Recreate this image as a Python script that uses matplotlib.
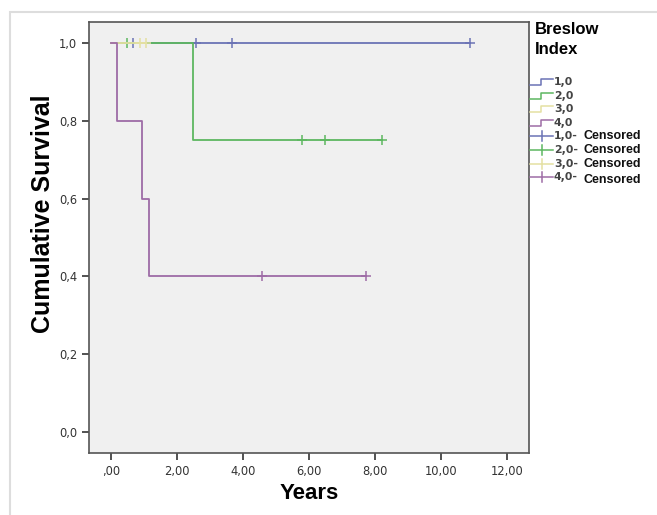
import matplotlib
matplotlib.use("Agg")
import matplotlib.pyplot as plt
from matplotlib.lines import Line2D
from matplotlib.patches import Rectangle

# Kaplan-Meier Stufen je Gruppe (Zeit in Jahren, kumulatives Überleben)
groups = ["1,0", "2,0", "3,0", "4,0"]
colors = ["#6B73B5", "#5DB760", "#E4E0A2", "#9E6CA6"]

step_times = [
    [0.0, 10.88],
    [0.0, 2.49, 8.21],
    [0.0, 1.05],
    [0.0, 0.17, 0.93, 1.16, 7.72],
]
step_surv = [
    [1.0, 1.0],
    [1.0, 0.75, 0.75],
    [1.0, 1.0],
    [1.0, 0.8, 0.6, 0.4, 0.4],
]

# zensierte Fälle
cens_times = [
    [0.67, 2.58, 3.67, 10.88],
    [0.47, 5.80, 6.49, 8.21],
    [0.88, 1.05],
    [4.58, 7.72],
]
cens_surv = [
    [1.0, 1.0, 1.0, 1.0],
    [1.0, 0.75, 0.75, 0.75],
    [1.0, 1.0],
    [0.4, 0.4],
]

x_ticks = [0, 2, 4, 6, 8, 10, 12]
x_labels = [",00", "2,00", "4,00", "6,00", "8,00", "10,00", "12,00"]
y_ticks = [0.0, 0.2, 0.4, 0.6, 0.8, 1.0]
y_labels = ["0,0", "0,2", "0,4", "0,6", "0,8", "1,0"]

W, H = 657, 515
fig = plt.figure(figsize=(W / 100, H / 100), dpi=100)


def fx(px):
    return px / W


def fy(py):
    return 1 - py / H


# heller Rahmen um die Grafik
fig.add_artist(Rectangle((fx(10), fy(600)), fx(700), fy(12) - fy(600),
                         transform=fig.transFigure, fill=False,
                         edgecolor="#DDDDDD", linewidth=1.5))

ax = fig.add_axes([fx(89), fy(453), fx(529) - fx(89), fy(22) - fy(453)])
ax.set_facecolor("#F0F0F0")

for i in range(len(groups)):
    ax.step(step_times[i], step_surv[i], where="post", color=colors[i], linewidth=1.3)
    ax.plot(cens_times[i], cens_surv[i], linestyle="none", marker="+",
            markersize=7, markeredgewidth=1.1, color=colors[i])

ax.set_xlim(-0.67, 12.67)
ax.set_ylim(-0.054, 1.054)
ax.set_xticks(x_ticks)
ax.set_xticklabels(x_labels)
ax.set_yticks(y_ticks)
ax.set_yticklabels(y_labels)
ax.tick_params(direction="out", length=5, width=1.2, color="#333333",
               labelsize=8.3, labelcolor="#333333")
for sp in ax.spines.values():
    sp.set_color("#555555")
    sp.set_linewidth(1.2)

ax.set_xlabel("Years", fontsize=16, fontweight="bold", family="Liberation Sans", labelpad=4)
ax.set_ylabel("Cumulative Survival", fontsize=18, fontweight="bold", family="Liberation Sans")
ax.yaxis.set_label_coords(-0.077, 0.555)

# Legende (SPSS-Stil)
fig.text(fx(535), fy(30), "Breslow", fontsize=12, fontweight="bold",
         family="Liberation Sans", va="center")
fig.text(fx(535), fy(50), "Index", fontsize=12, fontweight="bold",
         family="Liberation Sans", va="center")

row_h = 13.6
for i in range(len(groups)):
    y = 82 + row_h * i
    fig.add_artist(Line2D([fx(530), fx(541), fx(541), fx(553)],
                          [fy(y + 3), fy(y + 3), fy(y - 3), fy(y - 3)],
                          transform=fig.transFigure, color=colors[i], linewidth=1.1))
    fig.text(fx(554), fy(y), groups[i], fontsize=7.8, fontweight="bold",
             color="#444444", va="center")

for i in range(len(groups)):
    y = 82 + row_h * (i + 4)
    fig.add_artist(Line2D([fx(530), fx(553)], [fy(y), fy(y)],
                          transform=fig.transFigure, color=colors[i], linewidth=1.1))
    fig.add_artist(Line2D([fx(542), fx(542)], [fy(y - 5), fy(y + 5)],
                          transform=fig.transFigure, color=colors[i], linewidth=1.1))
    fig.text(fx(554), fy(y), groups[i] + "-", fontsize=7.8, fontweight="bold",
             color="#444444", va="center")
    dy = 3 if i == 3 else 0
    fig.text(fx(583), fy(y + dy), "Censored", fontsize=9, fontweight="bold",
             family="Liberation Sans", color="#111111", va="center")

fig.savefig("out.png", dpi=100)
